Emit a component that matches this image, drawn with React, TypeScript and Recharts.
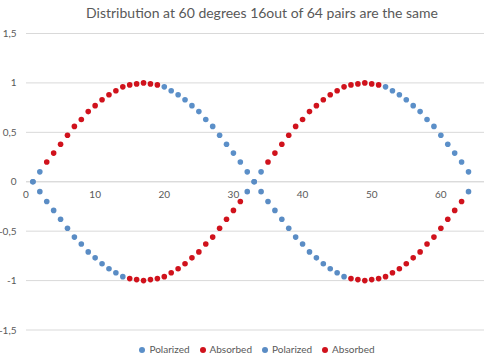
import {
  CartesianGrid,
  Legend,
  ReferenceLine,
  Scatter,
  ScatterChart,
  XAxis,
  YAxis,
} from "recharts";

// pair number along the x axis
const pairIndex = [
  1, 2, 3, 4, 5, 6, 7, 8, 9, 10, 11, 12, 13, 14, 15, 16,
  17, 18, 19, 20, 21, 22, 23, 24, 25, 26, 27, 28, 29, 30, 31, 32,
  33, 34, 35, 36, 37, 38, 39, 40, 41, 42, 43, 44, 45, 46, 47, 48,
  49, 50, 51, 52, 53, 54, 55, 56, 57, 58, 59, 60, 61, 62, 63, 64,
];

// size of each point (lower curve is its mirror)
const amplitude = [
  0, 0.1, 0.2, 0.29, 0.38, 0.47, 0.56, 0.63, 0.71, 0.77, 0.83, 0.88, 0.92, 0.96, 0.98, 0.99,
  1, 0.99, 0.98, 0.96, 0.92, 0.88, 0.83, 0.77, 0.71, 0.63, 0.56, 0.47, 0.38, 0.29, 0.2, 0.1,
  0, 0.1, 0.2, 0.29, 0.38, 0.47, 0.56, 0.63, 0.71, 0.77, 0.83, 0.88, 0.92, 0.96, 0.98, 0.99,
  1, 0.99, 0.98, 0.96, 0.92, 0.88, 0.83, 0.77, 0.71, 0.63, 0.56, 0.47, 0.38, 0.29, 0.2, 0.1,
];

// P = polarized, A = absorbed
const upperState = [
  "PP",
  "AAAAAAAAAAAAAAAAA",
  "PPPPPPPPPPPPPPP",
  "AAAAAAAAAAAAAAAAA",
  "PPPPPPPPPPPPP",
].join("");

const lowerState = [
  "PPPPPPPPPPPPPP",
  "AAAAAAAAAAAAAAAAA",
  "PPPPPPPPPPPPPPP",
  "AAAAAAAAAAAAAAAAA",
  "P",
].join("");

const xTicks = [0, 10, 20, 30, 40, 50, 60];
const yTicks = [-1.5, -1, -0.5, 0, 0.5, 1, 1.5];

const BLUE = "#5B8FC8";
const BLUE_2 = "#5A8CC4";
const RED = "#D0121C";
const TEXT = "#595959";
const GRID = "#D9D9D9";
const FONT = "Lato, 'Open Sans', sans-serif";

const CHART_W = 524;
const CHART_H = 361;
const TOP = 33.5;
const BOTTOM = 31;
const ZERO_Y = TOP + (CHART_H - TOP - BOTTOM) / 2;

function pick(state: string, letter: string, sign: number) {
  return pairIndex
    .map((x, i) => ({ x, y: sign * amplitude[i], s: state[i] }))
    .filter((p) => p.s === letter);
}

const series = [
  { id: "p1", name: "Polarized", color: BLUE, data: pick(upperState, "P", 1) },
  { id: "a1", name: "Absorbed", color: RED, data: pick(upperState, "A", 1) },
  { id: "p2", name: "Polarized", color: BLUE_2, data: pick(lowerState, "P", -1) },
  { id: "a2", name: "Absorbed", color: RED, data: pick(lowerState, "A", -1) },
];

const fmt = (v: number) => String(v).replace(".", ",");

const renderXTick = (props: any) => {
  const { x, payload } = props;
  return (
    <text x={x} y={ZERO_Y + 12.5} dy="0.355em" textAnchor="middle" fill={TEXT} fontSize={10} fontFamily={FONT}>
      {payload.value}
    </text>
  );
};

export default function App() {
  return (
    <div
      style={{
        position: "fixed",
        top: 0,
        left: 0,
        width: 484,
        height: 361,
        overflow: "hidden",
        background: "#fff",
        fontFamily: FONT,
      }}
    >
      <div
        style={{
          position: "absolute",
          top: 4,
          left: 0,
          width: CHART_W,
          textAlign: "center",
          fontSize: 14,
          color: TEXT,
          zIndex: 1,
        }}
      >
        Distribution at 60 degrees 16out of 64 pairs are the same
      </div>
      <ScatterChart width={CHART_W} height={CHART_H} margin={{ top: TOP, right: 14, bottom: BOTTOM - 1, left: 0 }}>
        <CartesianGrid horizontal vertical={false} stroke={GRID} />
        <XAxis
          type="number"
          dataKey="x"
          domain={[0, 70]}
          ticks={xTicks}
          axisLine={false}
          tickLine={false}
          height={1}
          tick={renderXTick}
          interval={0}
        />
        <YAxis
          type="number"
          dataKey="y"
          domain={[-1.5, 1.5]}
          ticks={yTicks}
          width={26}
          axisLine={false}
          tickLine={false}
          tickSize={0}
          tickMargin={9.5}
          tickFormatter={fmt}
          tick={{ fill: TEXT, fontSize: 10, fontFamily: FONT }}
        />
        <ReferenceLine y={0} stroke={GRID} />
        {series.map((s) => (
          <Scatter
            key={s.id}
            name={s.name}
            data={s.data}
            fill={s.color}
            isAnimationActive={false}
            shape={(p: any) => <circle cx={p.cx} cy={p.cy} r={2.8} fill={s.color} />}
          />
        ))}
        <Legend
          verticalAlign="middle"
          align="center"
          iconType="circle"
          iconSize={6}
          itemSorter={null}
          wrapperStyle={{ top: 343, left: 0, width: CHART_W, fontSize: 10, fontFamily: FONT }}
          formatter={(value: string) => <span style={{ color: TEXT }}>{value}</span>}
        />
      </ScatterChart>
    </div>
  );
}
